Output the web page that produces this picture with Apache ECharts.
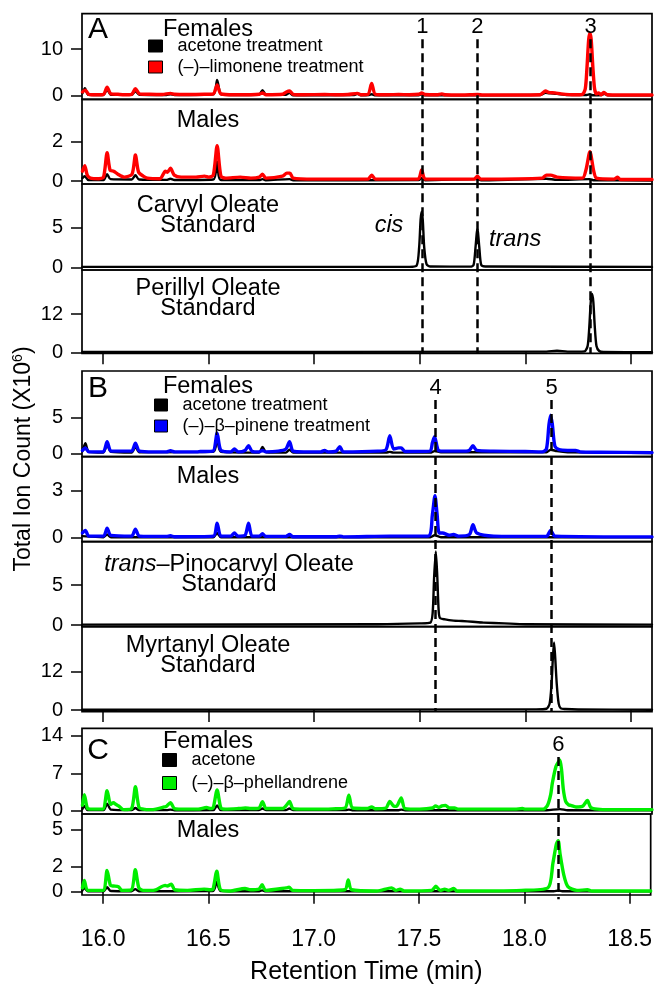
<!DOCTYPE html>
<html><head><meta charset="utf-8">
<script src="https://cdn.jsdelivr.net/npm/echarts@6/dist/echarts.min.js"></script>
<style>html,body{margin:0;padding:0;background:#fff}#c{width:655px;height:986px}</style>
</head><body><div id="c"></div>
<script>
// ---------------- DATA ----------------
const xTicks = [16.0, 16.5, 17.0, 17.5, 18.0, 18.5];
const ticksA1 = [0, 10], ticksA2 = [0, 2], ticksA3 = [0, 5], ticksA4 = [0, 12];
const ticksB1 = [0, 5], ticksB2 = [0, 3], ticksB3 = [0, 5], ticksB4 = [0, 12];
const ticksC1 = [0, 7, 14], ticksC2 = [0, 2, 5];
const peakIdsA = ['1', '2', '3'], peakTimesA = [17.512, 17.773, 18.309];
const peakIdsB = ['4', '5'], peakTimesB = [17.575, 18.125];
const peakIdsC = ['6'], peakTimesC = [18.156];

const a1Ace = [[15.902,0.5],[15.914,1.6],[15.93,0.2],[16.00,0.15],[16.019,1.3],[16.037,0.2],[16.135,0.2],[16.153,1.0],[16.172,0.2],[16.30,0.15],[16.319,0.3],[16.338,0.15],[16.522,0.3],[16.540,3.4],[16.558,0.3],[16.60,0.15],[16.738,0.2],[16.755,1.2],[16.772,0.2],[16.865,0.2],[16.883,0.6],[16.90,0.1],[17.19,0.15],[17.204,0.4],[17.22,0.1],[17.26,0.15],[17.272,0.3],[17.29,0.1],[17.495,0.1],[17.509,0.3],[17.525,0.1],[18.07,0.15],[18.096,0.6],[18.12,0.5],[18.15,0.4],[18.20,0.15],[18.29,0.15],[18.306,0.3],[18.322,0.1],[18.36,0.15],[18.375,0.4],[18.39,0.1],[18.6,0.1]];
const a1Lim = [[15.902,0.8],[15.916,1.2],[15.932,0.3],[15.97,0.2],[16.002,0.3],[16.019,1.8],[16.037,0.4],[16.07,0.3],[16.10,0.2],[16.135,0.3],[16.153,1.5],[16.172,0.4],[16.22,0.3],[16.28,0.25],[16.319,0.5],[16.338,0.3],[16.40,0.25],[16.48,0.3],[16.522,0.4],[16.540,2.3],[16.558,0.4],[16.62,0.2],[16.70,0.2],[16.74,0.3],[16.755,0.6],[16.772,0.2],[16.85,0.3],[16.868,0.8],[16.883,1.0],[16.90,0.3],[16.95,0.2],[17.05,0.25],[17.10,0.2],[17.16,0.25],[17.204,0.5],[17.222,0.2],[17.255,0.3],[17.272,2.6],[17.29,0.3],[17.35,0.2],[17.40,0.25],[17.45,0.2],[17.495,0.3],[17.509,0.6],[17.525,0.25],[17.58,0.2],[17.605,0.4],[17.62,0.2],[17.70,0.15],[17.773,0.25],[17.80,0.15],[17.95,0.15],[18.07,0.2],[18.096,1.0],[18.11,0.7],[18.14,0.6],[18.17,0.4],[18.23,0.2],[18.27,0.3],[18.284,1.5],[18.292,6],[18.300,12],[18.306,13.4],[18.312,12],[18.320,6],[18.328,1.5],[18.337,0.4],[18.346,0.6],[18.36,0.2],[18.371,0.7],[18.39,0.2],[18.45,0.15],[18.6,0.15]];

const a2Ace = [[15.902,0.15],[15.913,0.25],[15.93,0.05],[16.002,0.05],[16.019,0.35],[16.035,0.1],[16.135,0.08],[16.153,0.3],[16.17,0.08],[16.30,0.06],[16.319,0.12],[16.338,0.05],[16.522,0.08],[16.540,1.0],[16.558,0.05],[16.74,0.05],[16.755,0.1],[16.77,0.04],[16.883,0.1],[16.9,0.04],[17.495,0.05],[17.509,0.15],[17.525,0.04],[17.773,0.1],[17.79,0.04],[18.10,0.12],[18.15,0.06],[18.306,0.1],[18.322,0.04],[18.6,0.03]];
const a2Lim = [[15.902,0.5],[15.913,0.78],[15.925,0.3],[15.94,0.15],[15.98,0.12],[16.002,0.2],[16.019,1.44],[16.033,0.55],[16.05,0.5],[16.07,0.35],[16.10,0.2],[16.137,0.35],[16.153,1.32],[16.168,0.45],[16.19,0.25],[16.21,0.15],[16.27,0.12],[16.295,0.5],[16.305,0.45],[16.319,0.65],[16.337,0.3],[16.37,0.2],[16.44,0.2],[16.48,0.25],[16.50,0.2],[16.522,0.3],[16.540,1.8],[16.558,0.25],[16.58,0.15],[16.65,0.2],[16.70,0.15],[16.74,0.2],[16.755,0.35],[16.77,0.15],[16.85,0.25],[16.87,0.4],[16.885,0.4],[16.90,0.15],[17.0,0.1],[17.1,0.1],[17.255,0.1],[17.272,0.3],[17.29,0.1],[17.492,0.1],[17.509,0.56],[17.526,0.1],[17.758,0.1],[17.773,0.25],[17.788,0.1],[18.08,0.15],[18.10,0.3],[18.12,0.3],[18.15,0.2],[18.27,0.15],[18.288,0.6],[18.306,1.49],[18.324,0.5],[18.337,0.15],[18.42,0.1],[18.437,0.2],[18.45,0.08],[18.6,0.08]];

const a3Carvyl = [[15.902,0.05],[17.45,0.05],[17.485,0.2],[17.497,2.5],[17.504,6.0],[17.509,6.95],[17.514,6.0],[17.521,2.5],[17.532,0.4],[17.55,0.1],[17.74,0.08],[17.755,0.3],[17.764,2.5],[17.770,4.3],[17.773,4.75],[17.776,4.3],[17.782,2.5],[17.791,0.3],[17.81,0.1],[18.6,0.05]];
const a4Perillyl = [[15.902,0.1],[18.1,0.2],[18.15,0.5],[18.2,0.2],[18.28,0.3],[18.295,2],[18.303,8],[18.310,16],[18.316,18.4],[18.322,16],[18.329,8],[18.337,2],[18.35,0.4],[18.37,0.1],[18.6,0.05]];

const b1Ace = [[15.902,0.3],[15.916,1.4],[15.932,0.2],[16.00,0.1],[16.019,1.2],[16.037,0.2],[16.135,0.1],[16.153,0.9],[16.172,0.15],[16.522,0.2],[16.540,2.2],[16.558,0.2],[16.738,0.1],[16.755,0.9],[16.772,0.15],[16.866,0.1],[16.883,0.5],[16.90,0.1],[17.34,0.1],[17.358,0.2],[17.375,0.1],[17.55,0.1],[17.57,0.3],[17.6,0.15],[18.10,0.15],[18.12,0.5],[18.15,0.3],[18.2,0.15],[18.6,0.05]];
const b1Pin = [[15.902,0.4],[15.916,0.75],[15.932,0.2],[16.00,0.2],[16.019,1.6],[16.037,0.3],[16.08,0.3],[16.135,0.3],[16.153,1.4],[16.172,0.3],[16.24,0.2],[16.30,0.2],[16.319,0.35],[16.34,0.2],[16.445,0.2],[16.461,0.25],[16.52,0.3],[16.540,2.8],[16.558,0.4],[16.605,0.2],[16.622,0.6],[16.64,0.2],[16.672,0.4],[16.689,1.05],[16.705,0.3],[16.74,0.2],[16.755,0.4],[16.77,0.2],[16.83,0.3],[16.866,0.6],[16.883,1.6],[16.90,0.3],[16.95,0.2],[17.03,0.2],[17.049,0.4],[17.065,0.2],[17.104,0.3],[17.121,0.93],[17.138,0.2],[17.30,0.3],[17.34,0.5],[17.358,2.45],[17.376,0.6],[17.40,0.75],[17.412,0.75],[17.43,0.25],[17.548,0.3],[17.560,1.5],[17.570,2.3],[17.586,0.5],[17.60,0.3],[17.72,0.3],[17.735,0.4],[17.752,1.05],[17.77,0.4],[17.85,0.3],[18.0,0.25],[18.08,0.2],[18.10,0.6],[18.112,4],[18.120,5.3],[18.128,4],[18.14,1.0],[18.16,0.5],[18.20,0.4],[18.238,0.4],[18.26,0.2],[18.35,0.15],[18.6,0.1]];

const b2Ace = [[15.902,0.1],[16.002,0.03],[16.019,0.2],[16.037,0.03],[16.522,0.03],[16.540,0.3],[16.558,0.03],[17.55,0.03],[17.57,0.15],[17.6,0.03],[18.6,0.02]];
const b2Pin = [[15.902,0.3],[15.916,0.47],[15.932,0.1],[16.002,0.1],[16.019,0.6],[16.037,0.15],[16.135,0.1],[16.153,0.55],[16.172,0.1],[16.30,0.08],[16.319,0.12],[16.338,0.06],[16.522,0.1],[16.540,0.93],[16.558,0.1],[16.605,0.1],[16.622,0.3],[16.638,0.1],[16.672,0.15],[16.689,0.93],[16.705,0.1],[16.74,0.1],[16.755,0.25],[16.77,0.08],[16.866,0.08],[16.883,0.2],[16.9,0.06],[17.105,0.06],[17.121,0.1],[17.138,0.05],[17.358,0.1],[17.54,0.1],[17.560,1.5],[17.572,2.7],[17.582,1.5],[17.592,0.3],[17.608,0.3],[17.64,0.15],[17.66,0.2],[17.684,0.1],[17.735,0.2],[17.752,0.83],[17.77,0.3],[17.85,0.1],[18.10,0.08],[18.12,0.47],[18.14,0.1],[18.6,0.05]];

const b3Pinocarvyl = [[15.902,0.05],[17.3,0.1],[17.5,0.2],[17.55,0.3],[17.561,1.5],[17.568,6],[17.576,9.2],[17.583,6],[17.589,2],[17.595,0.9],[17.62,0.7],[17.66,0.55],[17.70,0.5],[17.75,0.4],[17.80,0.3],[17.90,0.2],[18.0,0.1],[18.6,0.05]];
const b4Myrtanyl = [[15.902,0.1],[18.05,0.2],[18.10,0.4],[18.115,2],[18.124,8],[18.131,17],[18.136,21.2],[18.141,17],[18.149,8],[18.158,2],[18.168,0.5],[18.19,0.3],[18.25,0.15],[18.6,0.1]];

const c1Ace = [[15.902,0.3],[15.911,0.9],[15.927,0.1],[16.002,0.1],[16.019,1.3],[16.037,0.2],[16.135,0.1],[16.153,0.5],[16.17,0.1],[16.30,0.1],[16.319,0.2],[16.338,0.08],[16.522,0.1],[16.540,1.0],[16.558,0.1],[16.738,0.1],[16.755,0.4],[16.772,0.1],[16.866,0.1],[16.883,0.4],[16.9,0.1],[17.148,0.1],[17.164,0.2],[17.18,0.08],[17.40,0.08],[17.412,0.2],[17.43,0.08],[18.10,0.08],[18.164,0.3],[18.20,0.08],[18.6,0.05]];
const c1Phe = [[15.902,1.0],[15.911,3.0],[15.925,0.5],[15.94,0.3],[15.998,0.3],[16.019,3.75],[16.035,1.2],[16.049,1.5],[16.06,1.2],[16.073,0.9],[16.09,0.3],[16.10,0.2],[16.135,0.4],[16.153,4.5],[16.17,0.6],[16.19,0.3],[16.224,0.2],[16.25,0.3],[16.29,0.7],[16.30,0.8],[16.319,1.5],[16.338,0.4],[16.37,0.3],[16.45,0.3],[16.49,0.6],[16.51,0.4],[16.522,0.6],[16.540,3.9],[16.558,0.5],[16.58,0.3],[16.64,0.4],[16.674,0.5],[16.70,0.4],[16.738,0.5],[16.755,1.7],[16.772,0.4],[16.85,0.4],[16.868,1.0],[16.883,1.75],[16.90,0.4],[16.95,0.3],[17.05,0.3],[17.087,0.35],[17.146,0.5],[17.164,2.9],[17.182,0.5],[17.25,0.4],[17.272,0.7],[17.29,0.35],[17.34,0.5],[17.358,1.75],[17.375,0.9],[17.389,0.8],[17.412,2.4],[17.43,0.4],[17.50,0.3],[17.56,0.5],[17.575,0.9],[17.59,0.6],[17.605,0.9],[17.622,1.0],[17.64,0.5],[17.665,0.5],[17.68,0.3],[17.80,0.3],[17.95,0.3],[17.986,0.4],[18.0,0.3],[18.085,0.3],[18.105,1.0],[18.12,3.0],[18.128,5.2],[18.145,8.3],[18.158,9.2],[18.164,9.5],[18.172,7.5],[18.18,4],[18.191,1.75],[18.205,1.1],[18.215,1.0],[18.24,0.7],[18.27,0.8],[18.294,1.9],[18.31,0.6],[18.341,0.3],[18.40,0.2],[18.6,0.2]];

const c2Ace = [[15.902,0.1],[15.911,0.3],[15.927,0.03],[16.002,0.03],[16.019,0.35],[16.037,0.05],[16.135,0.03],[16.153,0.2],[16.17,0.03],[16.522,0.05],[16.540,0.8],[16.558,0.05],[16.738,0.03],[16.755,0.1],[16.772,0.03],[18.14,0.03],[18.163,0.1],[18.18,0.03],[18.6,0.02]];
const c2Phe = [[15.902,0.3],[15.911,0.9],[15.927,0.1],[16.00,0.1],[16.019,1.7],[16.035,0.5],[16.049,0.45],[16.073,0.4],[16.09,0.1],[16.135,0.15],[16.153,1.77],[16.17,0.3],[16.19,0.1],[16.224,0.1],[16.25,0.15],[16.295,0.5],[16.305,0.45],[16.324,0.6],[16.34,0.15],[16.40,0.1],[16.48,0.2],[16.51,0.15],[16.522,0.2],[16.540,1.65],[16.558,0.15],[16.60,0.05],[16.674,0.25],[16.70,0.15],[16.74,0.2],[16.755,0.55],[16.772,0.1],[16.87,0.3],[16.883,0.35],[16.90,0.1],[17.0,0.08],[17.148,0.15],[17.164,0.93],[17.18,0.15],[17.30,0.05],[17.37,0.3],[17.39,0.1],[17.41,0.2],[17.43,0.05],[17.56,0.1],[17.58,0.43],[17.60,0.1],[17.622,0.2],[17.64,0.1],[17.665,0.25],[17.68,0.05],[17.986,0.1],[18.112,0.3],[18.136,2.3],[18.152,3.8],[18.161,4.1],[18.170,3.0],[18.188,1.3],[18.207,0.4],[18.25,0.1],[18.30,0.15],[18.32,0.05],[18.6,0.05]];

// ---------------- STYLE / LAYOUT ----------------
const FONT = '"Liberation Sans", Arial, Helvetica, sans-serif';
const BLACK = '#000000', RED = '#ff0000', BLUE = '#0000ff', GREEN = '#00ee00';
const X_MIN = 15.9, X_MAX = 18.6;
const LEFT = 82, RIGHT = 3;
const WB = 2.4, WC = 3.4;

const panels = [
  {top:13.7, h:85.6, ymin:-0.77, ymax:17.56, ticks:ticksA1, lines:[['acetone treatment',a1Ace,BLACK,WB],['(–)–limonene treatment',a1Lim,RED,WC]]},
  {top:99.3, h:84.7, ymin:-0.15, ymax:4.15, ticks:ticksA2, lines:[['acetone treatment',a2Ace,BLACK,WB],['(–)–limonene treatment',a2Lim,RED,WC]]},
  {top:184, h:86, ymin:-0.34, ymax:10.41, ticks:ticksA3, lines:[['Carvyl Oleate',a3Carvyl,BLACK,WB]]},
  {top:270, h:83.3, ymin:-0.32, ymax:25.96, ticks:ticksA4, lines:[['Perillyl Oleate',a4Perillyl,BLACK,WB]], xt:true},
  {top:371, h:85.7, ymin:-0.47, ymax:11.43, ticks:ticksB1, lines:[['acetone treatment',b1Ace,BLACK,WB],['(–)–β–pinene treatment',b1Pin,BLUE,WC]]},
  {top:456.7, h:85, ymin:-0.26, ymax:5.2, ticks:ticksB2, lines:[['acetone treatment',b2Ace,BLACK,WB],['(–)–β–pinene treatment',b2Pin,BLUE,WC]]},
  {top:541.7, h:85, ymin:-0.21, ymax:10.41, ticks:ticksB3, lines:[['trans-Pinocarvyl Oleate',b3Pinocarvyl,BLACK,WB]]},
  {top:626.7, h:85, ymin:-0.53, ymax:26.1, ticks:ticksB4, lines:[['Myrtanyl Oleate',b4Myrtanyl,BLACK,WB]], xt:true},
  {top:728.3, h:85.7, ymin:-0.62, ymax:15.44, ticks:ticksC1, lines:[['acetone',c1Ace,BLACK,WB],['(–)–β–phellandrene',c1Phe,GREEN,WC]]},
  {top:814, h:85.3, ymin:-0.27, ymax:6.24, ticks:ticksC2, lines:[['acetone',c2Ace,BLACK,WB],['(–)–β–phellandrene',c2Phe,GREEN,WC]], xt:true, xl:true}
];
const overlays = [
  {top:13.7, h:339.6, start:0.925, ids:peakIdsA, times:peakTimesA},
  {top:371, h:340.7, start:0.915, ids:peakIdsB, times:peakTimesB},
  {top:728.3, h:171, start:0.832, ids:peakIdsC, times:peakTimesC}
];

const grid = [], xAxis = [], yAxis = [], series = [];
panels.forEach((p, i) => {
  grid.push({left:LEFT, right:RIGHT, top:p.top, height:p.h, show:true, borderColor:'#000', borderWidth:1.7, backgroundColor:'transparent'});
  xAxis.push({
    type:'value', gridIndex:i, min:X_MIN, max:X_MAX,
    axisLine:{show:false}, splitLine:{show:false},
    axisTick:{show:!!p.xt, customValues:xTicks, length:12, lineStyle:{color:'#000', width:1.5}},
    axisLabel:{show:!!p.xl, customValues:xTicks, formatter:v => v.toFixed(1), fontSize:23, color:'#000', fontFamily:FONT, margin:33},
    name: p.xl ? 'Retention Time (min)' : '', nameLocation:'middle', nameGap:65,
    nameTextStyle:{fontSize:25, color:'#000', fontFamily:FONT}
  });
  yAxis.push({
    type:'value', gridIndex:i, min:p.ymin, max:p.ymax,
    axisLine:{show:false}, splitLine:{show:false},
    axisTick:{show:true, customValues:p.ticks, length:11, lineStyle:{color:'#000', width:1.5}},
    axisLabel:{show:true, customValues:p.ticks, fontSize:20, color:'#000', fontFamily:FONT, margin:19}
  });
  p.lines.forEach(([name, data, color, width]) => {
    series.push({
      type:'line', name, data, xAxisIndex:i, yAxisIndex:i, symbol:'none', showSymbol:false,
      smooth:0.25, silent:true, animation:false, z:2,
      lineStyle:{color, width, join:'round', cap:'round'}, itemStyle:{color}
    });
  });
});
overlays.forEach((o, k) => {
  const gi = panels.length + k;
  grid.push({left:LEFT, right:RIGHT, top:o.top, height:o.h, show:false});
  xAxis.push({type:'value', gridIndex:gi, min:X_MIN, max:X_MAX, show:false});
  yAxis.push({type:'value', gridIndex:gi, min:0, max:1, show:false});
  series.push({
    type:'line', data:[], xAxisIndex:gi, yAxisIndex:gi, silent:true, animation:false, z:10,
    markLine:{
      symbol:['none','none'], silent:true, animation:false,
      lineStyle:{color:'#000', width:2.5, type:[9,5]},
      label:{show:true, position:'start', distance:1, fontSize:22, color:'#000', fontFamily:FONT, formatter:pp => pp.name},
      data:o.ids.map((id, j) => [{name:id, xAxis:o.times[j], yAxis:o.start}, {xAxis:o.times[j], yAxis:0}])
    }
  });
});

const legendBase = {
  orient:'vertical', icon:'rect', padding:0, selectedMode:false,
  itemStyle:{borderColor:'#000', borderWidth:1},
  textStyle:{fontSize:18, lineHeight:18, color:'#000', fontFamily:FONT, padding:[0,0,0,10]}
};
const legend = [
  Object.assign({}, legendBase, {left:148, top:37, itemWidth:14, itemHeight:12, itemGap:3, data:['acetone treatment','(–)–limonene treatment']}),
  Object.assign({}, legendBase, {left:154, top:396, itemWidth:13, itemHeight:12, itemGap:3, data:['acetone treatment','(–)–β–pinene treatment']}),
  Object.assign({}, legendBase, {left:162, top:751, itemWidth:14, itemHeight:13, itemGap:5, data:['acetone','(–)–β–phellandrene']})
];

function txt(x, y, text, size, extra) {
  return {type:'text', x, y, silent:true, z:20,
    style:Object.assign({text, fontSize:size, fontFamily:FONT, fill:'#000', align:'center', verticalAlign:'middle', lineHeight:20}, extra || {})};
}
const graphic = [
  txt(98, 30, 'A', 30), txt(98, 389, 'B', 30), txt(98, 751, 'C', 30),
  txt(208, 29.5, 'Females', 23.5), txt(208, 121, 'Males', 23.5),
  txt(208, 216, 'Carvyl Oleate\nStandard', 23.5), txt(208, 298.5, 'Perillyl Oleate\nStandard', 23.5),
  txt(389, 225, 'cis', 23.5, {fontStyle:'italic'}), txt(489, 239.5, 'trans', 23.5, {fontStyle:'italic', align:'left'}),
  txt(208, 386.5, 'Females', 23.5), txt(208, 476.5, 'Males', 23.5),
  txt(229, 574.5, '{i|trans}–Pinocarvyl Oleate\nStandard', 23.5, {rich:{i:{fontStyle:'italic', fontSize:23.5, fontFamily:FONT, lineHeight:20}}}),
  txt(208, 656, 'Myrtanyl Oleate\nStandard', 23.5),
  txt(208, 741.5, 'Females', 23.5), txt(208, 830.5, 'Males', 23.5),
  Object.assign(txt(24, 459, 'Total Ion Count (X10{s|6})', 23, {lineHeight:26, rich:{s:{fontSize:14, fontFamily:FONT, verticalAlign:'top', lineHeight:26}}}), {rotation:Math.PI/2})
];

const chart = echarts.init(document.getElementById('c'), null, {renderer:'canvas'});
chart.setOption({
  animation:false, backgroundColor:'#fff',
  textStyle:{fontFamily:FONT},
  grid, xAxis, yAxis, series, legend, graphic
});
</script></body></html>
